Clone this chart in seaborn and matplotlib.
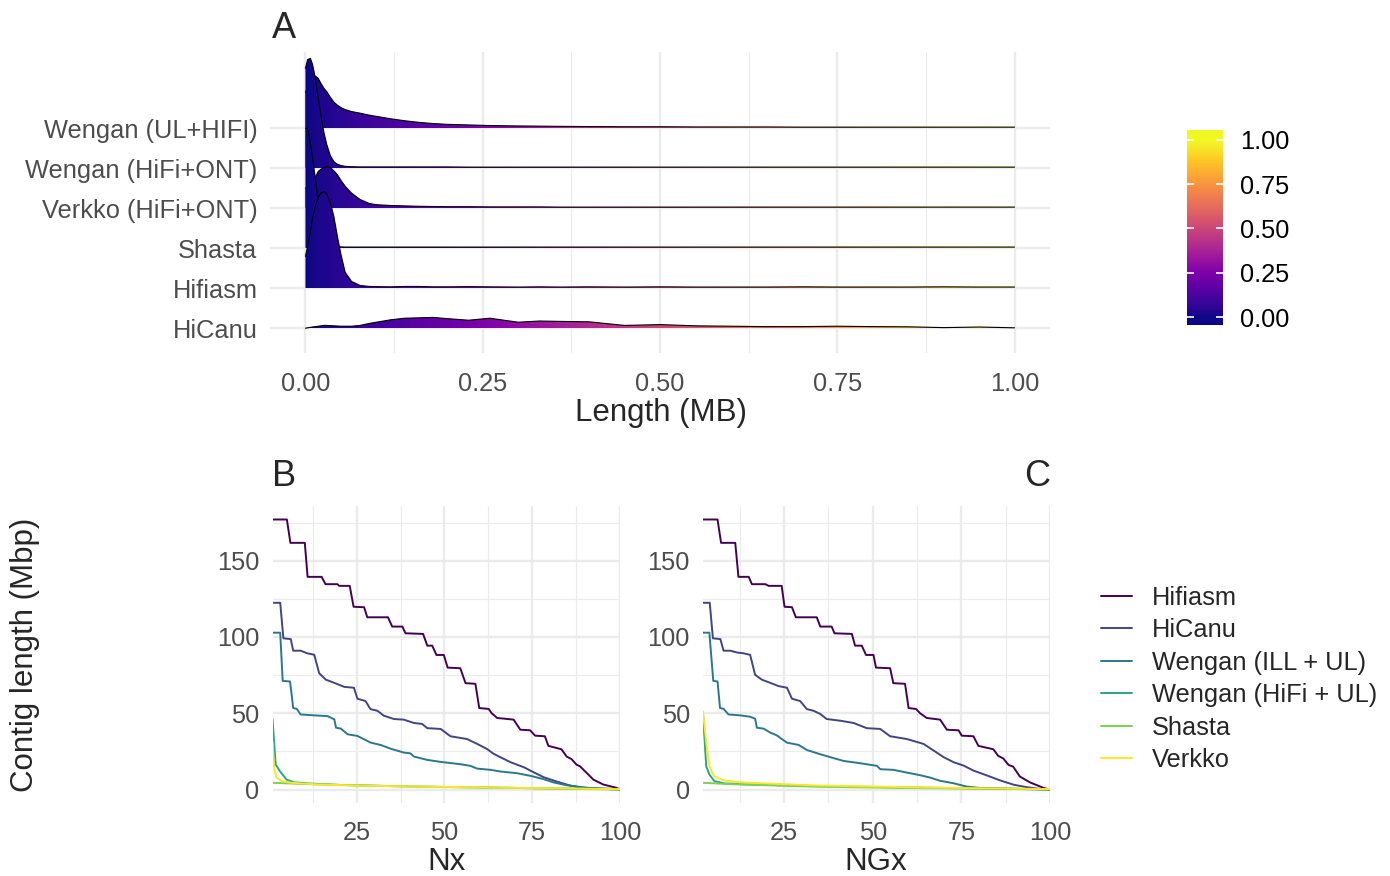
import matplotlib
matplotlib.use("Agg")
import matplotlib.pyplot as plt
import numpy as np
import pandas as pd
import seaborn as sns
from matplotlib.patches import Polygon
from matplotlib.ticker import MultipleLocator

# ---- panel A: length density ridges (height in ridge-spacing units) ----
ridge_names = ["HiCanu", "Hifiasm", "Shasta", "Verkko (HiFi+ONT)",
               "Wengan (HiFi+ONT)", "Wengan (UL+HIFI)"]
ridge_x = [0, .003, .007, .01, .014, .018, .022, .026, .03, .035, .04, .045,
           .05, .056, .065, .077, .09, .1, .12, .14, .16, .18, .2, .23, .26,
           .3, .33, .36, .4, .45, .5, .55, .6, .65, .7, .75, .8, .85, .9, .95, 1.0]
h_wengan_ul_hifi = [0.9, 1.05, 1.2, 1.28, 1.31, 1.25, 1.12, 1.0, 0.92, 0.78, 0.66,
                    0.58, 0.52, 0.47, 0.42, 0.38, 0.33, 0.3, 0.24, 0.19, 0.15, 0.12,
                    0.1, 0.085, 0.07, 0.06, 0.055, 0.05, 0.045, 0.04, 0.04, 0.035,
                    0.035, 0.035, 0.03, 0.03, 0.03, 0.03, 0.03, 0.03, 0.03]
h_wengan_hifi_ont = [2.5, 2.72, 2.75, 2.6, 2.25, 1.75, 1.3, 0.9, 0.6, 0.32, 0.17,
                     0.1, 0.07, 0.05, 0.04, 0.035, 0.035, 0.035, 0.035, 0.035, 0.035,
                     0.035, 0.035, 0.03, 0.03, 0.03, 0.03, 0.03, 0.03, 0.03, 0.03,
                     0.03, 0.03, 0.03, 0.03, 0.03, 0.03, 0.03, 0.03, 0.03, 0.03]
h_verkko = [0.5, 0.55, 0.62, 0.7, 0.78, 0.92, 0.98, 1.02, 1.04, 1.02, 0.94, 0.84,
            0.7, 0.55, 0.38, 0.22, 0.12, 0.09, 0.07, 0.06, 0.05, 0.045, 0.04,
            0.04, 0.035, 0.035, 0.035, 0.03, 0.03, 0.03, 0.03, 0.03, 0.03, 0.03,
            0.03, 0.03, 0.03, 0.03, 0.03, 0.03, 0.03]
h_shasta = [3.0, 3.0, 2.6, 2.25, 1.75, 1.15, 0.65, 0.35, 0.2, 0.1, 0.06, 0.04,
            0.035, 0.03, 0.03, 0.03, 0.03, 0.03, 0.03, 0.03, 0.03, 0.03, 0.03,
            0.03, 0.03, 0.03, 0.03, 0.03, 0.03, 0.03, 0.03, 0.03, 0.03, 0.03,
            0.03, 0.03, 0.03, 0.03, 0.03, 0.03, 0.03]
h_hifiasm = [0.8, 1.05, 1.4, 1.75, 2.05, 2.28, 2.38, 2.42, 2.36, 2.15, 1.8, 1.3,
             0.85, 0.4, 0.17, 0.07, 0.045, 0.04, 0.035, 0.045, 0.045, 0.035, 0.035,
             0.04, 0.035, 0.03, 0.035, 0.03, 0.035, 0.03, 0.035, 0.03, 0.03,
             0.03, 0.035, 0.03, 0.03, 0.03, 0.035, 0.03, 0.03]
h_hicanu = [0.0, 0.01, 0.02, 0.03, 0.04, 0.05, 0.06, 0.07, 0.07, 0.065, 0.06,
            0.055, 0.05, 0.05, 0.05, 0.07, 0.12, 0.15, 0.21, 0.25, 0.26, 0.27,
            0.24, 0.2, 0.25, 0.15, 0.18, 0.17, 0.16, 0.07, 0.09, 0.06, 0.05,
            0.04, 0.04, 0.05, 0.04, 0.035, 0.015, 0.03, 0.01]

# ---- panels B/C: Nx and NGx curves (vertices x, Mbp) ----
assemblies = ["Hifiasm", "HiCanu", "Wengan (ILL + UL)", "Wengan (HiFi + UL)",
              "Shasta", "Verkko"]
palette = ["#440154", "#414487", "#2A788E", "#22A884", "#7AD151", "#FDE725"]

nx_hifiasm = [(1, 177), (5.1, 177), (6.1, 161.7), (10.2, 161.7), (11, 139.4), (15, 139.4),
              (16.1, 134.6), (19.5, 134.6), (20, 133.5), (23, 133.5), (24.1, 119.8),
              (27.1, 119.5), (28, 112.9), (33.9, 112.9), (35.1, 106.8), (38, 106.8),
              (38.9, 102.4), (43.9, 102), (45.1, 94.3), (46.5, 94.3), (47.7, 88.2),
              (49.8, 88.2), (50.9, 79.9), (54.5, 79.5), (56, 69.7), (58.8, 69.3),
              (59.9, 53.4), (62.6, 52.8), (63.4, 50.1), (65, 46.9), (69.7, 45.8),
              (71.6, 39.2), (74.4, 38.8), (75.8, 35.3), (78.6, 34.9), (79.6, 28.6),
              (83.3, 26.4), (84.8, 21.6), (86.2, 19.9), (87.6, 16.3), (88.6, 15.2),
              (90.5, 10.9), (92.4, 6.5), (95.2, 3.3), (99, 1.1), (100, 0)]
nx_hicanu = [(1, 122.4), (3.2, 122.4), (4.1, 99.1), (6.2, 98.6), (6.9, 91), (9, 91),
             (10.9, 89.3), (12.9, 88.3), (14.3, 76.2), (16.2, 72), (18.6, 69.9),
             (21.4, 67.3), (24.2, 66.7), (25.2, 59.5), (27.5, 58), (28.9, 52.7),
             (30.9, 51.6), (32.7, 48.4), (35.6, 46.2), (38.4, 45.8), (41.3, 43.6),
             (43.6, 43), (45.1, 40.2), (48.9, 39.7), (51.7, 34.9), (56.4, 33.1),
             (59.3, 29.9), (62.1, 26.6), (64, 23.4), (65.9, 21.2), (68.8, 17.9),
             (72.6, 14.6), (75.4, 11.3), (78.2, 8.1), (82, 5.2), (85.8, 2.6),
             (89.5, 1.1), (94.3, 0.5), (100, 0)]
nx_wengan_ill = [(1, 102.8), (3.2, 102.8), (3.9, 71.2), (6, 70.8), (6.9, 53.4), (7.9, 52.9),
                 (9, 49.2), (12.9, 48.6), (16.7, 48.1), (18.6, 46), (19.1, 40.5),
                 (20.5, 39.9), (22.4, 36.2), (25.2, 35.1), (29, 30.7), (31.8, 29.2),
                 (34.6, 26.8), (38.4, 24.2), (40.3, 23.7), (41.3, 21.6), (45.1, 19.4),
                 (48.9, 18.1), (54.5, 16.6), (57.4, 15.5), (59.3, 13.7), (63.1, 12.9),
                 (65.9, 11.8), (70.6, 10.7), (74.4, 9), (78.2, 6.8), (81.1, 4.6),
                 (84.8, 2.8), (87.7, 1.9), (91.4, 1), (100, 0.2)]
nx_wengan_hifi = [(1, 46.3), (1.9, 16.4), (3.1, 12), (5, 6.5), (7.1, 4.7), (11.8, 3.9),
                  (20, 3.0), (40, 2.0), (65, 1.2), (85, 0.5), (100, 0.1)]
nx_shasta = [(1, 4.4), (10, 3.6), (30, 2.4), (50, 1.6), (75, 0.9), (100, 0.2)]
nx_verkko = [(1, 31.6), (1.5, 13.1), (2.2, 7.6), (3.6, 5.5), (6.4, 4.4), (13.9, 3.3),
             (25, 2.6), (40, 2.0), (60, 1.4), (80, 0.8), (100, 0.2)]

ngx_hifiasm = [(2.1, 177), (6.2, 177), (7.2, 161.7), (11.2, 161.7), (12.1, 139.4),
               (15, 139.4), (15.9, 134.6), (19.7, 134.6), (20.6, 133.5), (24.3, 133.5),
               (25.1, 119.8), (27.2, 119.5), (28.3, 112.9), (34.2, 112.9), (35.2, 106.8),
               (38.4, 106.8), (39.2, 102.4), (44.1, 102), (45, 94.3), (46.9, 94.3),
               (48.1, 88.2), (50.2, 88.2), (50.9, 79.9), (54.9, 79.5), (55.8, 69.7),
               (59.1, 69.3), (60.1, 53.4), (62.2, 52.8), (63.3, 50.1), (65.2, 46.9),
               (69, 45.8), (70.9, 39.2), (74.2, 38.8), (75.1, 35.3), (78.4, 34.9),
               (79.8, 28.6), (84, 26.4), (85.4, 22), (86.8, 20.4), (88.3, 16.1),
               (89.6, 15), (91.5, 8.5), (94.4, 4.6), (97.2, 2), (98.2, 1), (100, 0)]
ngx_hicanu = [(2.1, 122.4), (4, 122.4), (4.9, 99.1), (7, 98.6), (7.9, 91), (9.8, 91),
              (11.7, 89.8), (13.5, 89.3), (15.4, 88.3), (16.8, 75.2), (18.7, 72),
              (21.1, 69.9), (23.4, 67.8), (25.8, 66.7), (27.2, 59.5), (29.5, 58),
              (31.4, 52.7), (33.3, 51.6), (35.2, 49.5), (37, 46.2), (40.8, 45.1),
              (44.6, 43.6), (48.3, 40.2), (52.1, 39.7), (54.9, 34.9), (59.6, 33.1),
              (64.3, 29.9), (67.2, 25.5), (70, 21.2), (72.8, 17.9), (75.6, 15.7),
              (78.4, 12.4), (82.2, 9.2), (86, 5.9), (89.8, 3.1), (93.5, 1.5),
              (97.2, 0.4), (100, 0)]
ngx_wengan_ill = [(2.1, 102.8), (3.9, 102.8), (5, 71.2), (6.2, 70.8), (6.9, 53.4),
                  (7.9, 52.9), (9.3, 49.2), (12.6, 48.6), (15.4, 47.7), (16.8, 46.4),
                  (17.3, 40.5), (19.2, 39.9), (21.1, 37.3), (22.9, 35.5), (25.8, 30.7),
                  (29.1, 29.2), (31.4, 25.9), (35.2, 23.1), (38, 21.2), (41.8, 18.7),
                  (46.5, 17.2), (51.2, 15.5), (52.1, 13.3), (55.8, 12.9), (59.6, 11.1),
                  (63.3, 9.4), (66.2, 7.8), (69, 5.7), (72.8, 4.1), (76.5, 1.9),
                  (80.3, 1), (100, 0)]
ngx_wengan_hifi = [(2.1, 50.2), (3, 15.3), (3.9, 9.8), (5.3, 5.5), (8.1, 4), (14.7, 3.3),
                   (20, 3.0), (40, 2.0), (70, 1.0), (100, 0)]
ngx_shasta = [(2.1, 4.4), (10, 3.5), (34.5, 1.8), (60, 1.0), (100, 0.2)]
ngx_verkko = [(2.1, 51.3), (3, 30.8), (3.9, 15.3), (5.2, 8.7), (7.7, 6.1), (11.9, 4.8),
              (19.4, 4.0), (34.5, 2.6), (60, 1.5), (80, 0.8), (100, 0.3)]


def curves_df(curves):
    rows = []
    for name, pts in zip(assemblies, curves):
        for i, (x, y) in enumerate(pts):
            rows.append({"assembly": name, "x": x, "y": y, "order": i})
    return pd.DataFrame(rows)


nx_df = curves_df([nx_hifiasm, nx_hicanu, nx_wengan_ill, nx_wengan_hifi, nx_shasta, nx_verkko])
ngx_df = curves_df([ngx_hifiasm, ngx_hicanu, ngx_wengan_ill, ngx_wengan_hifi, ngx_shasta, ngx_verkko])

sns.set_theme(style="white")
plt.rcParams["font.family"] = ["Liberation Sans", "DejaVu Sans"]

W, H = 1390, 876
TICK_COL = "#4D4D4D"
GRID_COL = "#EBEBEB"
TICK_FS = 18.3
TITLE_FS = 22.5

fig = plt.figure(figsize=(W / 100, H / 100), dpi=100)


def px_axes(x0, y0, x1, y1):
    return fig.add_axes([x0 / W, 1 - y1 / H, (x1 - x0) / W, (y1 - y0) / H])


def style_axes(ax):
    for s in ax.spines.values():
        s.set_visible(False)
    ax.set_axisbelow(True)
    ax.grid(which="major", color=GRID_COL, lw=1.7)
    ax.grid(which="minor", color=GRID_COL, lw=0.8)
    ax.tick_params(which="both", length=0, labelsize=TICK_FS, labelcolor=TICK_COL)
    ax.set_xlabel("")
    ax.set_ylabel("")


# ---- panel A ----
ax_a = px_axes(270, 52, 1050, 353)
cmap = plt.get_cmap("plasma")
grad = np.linspace(0, 1, 512).reshape(1, -1)
heights = [h_hicanu, h_hifiasm, h_shasta, h_verkko, h_wengan_hifi_ont, h_wengan_ul_hifi]
xs = np.array(ridge_x)
# draw top row first so lower ridges overlap upper ones
for k, idx in enumerate(range(len(ridge_names) - 1, -1, -1)):
    base = idx + 1
    top = base + np.array(heights[idx])
    verts = np.vstack([np.column_stack([xs, top]),
                       np.column_stack([xs[::-1], np.full(len(xs), base)])])
    patch = Polygon(verts, closed=True, facecolor="none", edgecolor="none")
    ax_a.add_patch(patch)
    img = ax_a.imshow(grad, cmap=cmap, aspect="auto", origin="lower",
                      extent=[0, 1, base, top.max()], zorder=2 + 2 * k)
    img.set_clip_path(patch)
    sns.lineplot(x=xs, y=top, color="black", lw=0.8, ax=ax_a, zorder=3 + 2 * k)

style_axes(ax_a)
ax_a.set_xlim(-0.05, 1.05)
ax_a.set_ylim(0.38, 7.91)
ax_a.set_xticks([0, 0.25, 0.5, 0.75, 1.0])
ax_a.set_xticklabels(["0.00", "0.25", "0.50", "0.75", "1.00"])
ax_a.xaxis.set_minor_locator(MultipleLocator(0.125))
ax_a.set_yticks(range(1, len(ridge_names) + 1))
ax_a.set_yticklabels(ridge_names)
ax_a.grid(axis="y", which="minor", visible=False)
ax_a.tick_params(axis="x", pad=13.5)
ax_a.tick_params(axis="y", pad=9)

# colorbar
ax_cb = px_axes(1187, 130, 1223, 325)
lo, hi = -0.045, 1.056
ax_cb.imshow(np.linspace(lo, hi, 400).reshape(-1, 1), cmap=cmap, vmin=0, vmax=1,
             origin="lower", aspect="auto", extent=[0, 1, lo, hi])
cb_ticks = [0, 0.25, 0.5, 0.75, 1.0]
ax_cb.hlines(cb_ticks, 0, 0.2, color="white", lw=1.2)
ax_cb.hlines(cb_ticks, 0.8, 1, color="white", lw=1.2)
ax_cb.set_xlim(0, 1)
ax_cb.set_ylim(lo, hi)
ax_cb.set_xticks([])
ax_cb.yaxis.tick_right()
ax_cb.set_yticks(cb_ticks)
ax_cb.set_yticklabels(["0.00", "0.25", "0.50", "0.75", "1.00"])
ax_cb.tick_params(length=0, labelsize=TICK_FS, pad=12, labelcolor="black")
for s in ax_cb.spines.values():
    s.set_visible(False)

# ---- panels B and C ----
ax_b = px_axes(272.5, 506, 620, 803)
ax_c = px_axes(703, 506, 1050, 803)
for ax, df, xmin in [(ax_b, nx_df, 1), (ax_c, ngx_df, 2.1)]:
    sns.lineplot(data=df, x="x", y="y", hue="assembly", hue_order=assemblies,
                 palette=palette, units="assembly", estimator=None, sort=False,
                 lw=1.4, ax=ax, legend=(ax is ax_b))
    style_axes(ax)
    ax.set_xlim(xmin, 100)
    ax.set_ylim(-8.85, 185.85)
    ax.set_xticks([25, 50, 75, 100])
    ax.set_yticks([0, 50, 100, 150])
    ax.xaxis.set_minor_locator(MultipleLocator(12.5))
    ax.yaxis.set_minor_locator(MultipleLocator(25))
    ax.tick_params(axis="x", pad=13)
    ax.tick_params(axis="y", pad=9.5)

handles, labels = ax_b.get_legend_handles_labels()
ax_b.get_legend().remove()
for hd in handles:
    hd.set_linewidth(1.4)
fig.legend(handles, labels, loc="center left", bbox_to_anchor=(1101 / W, 1 - 679 / H),
           frameon=False, fontsize=TICK_FS, handlelength=1.22, handletextpad=0.78,
           labelspacing=0.335, borderpad=0, borderaxespad=0)

# titles and panel tags
fig.text(661 / W, 1 - 413 / H, "Length (MB)", ha="center", va="center", fontsize=TITLE_FS)
fig.text(446 / W, 1 - 862 / H, "Nx", ha="center", va="center", fontsize=TITLE_FS)
fig.text(876 / W, 1 - 862 / H, "NGx", ha="center", va="center", fontsize=TITLE_FS)
fig.text(25 / W, 1 - 655 / H, "Contig length (Mbp)", ha="center", va="center",
         rotation=90, fontsize=TITLE_FS)
fig.text(272 / W, 1 - 28 / H, "A", ha="left", va="center", fontsize=26)
fig.text(272 / W, 1 - 477 / H, "B", ha="left", va="center", fontsize=26)
fig.text(1050 / W, 1 - 477 / H, "C", ha="right", va="center", fontsize=26)

fig.savefig("out.png", dpi=100)
